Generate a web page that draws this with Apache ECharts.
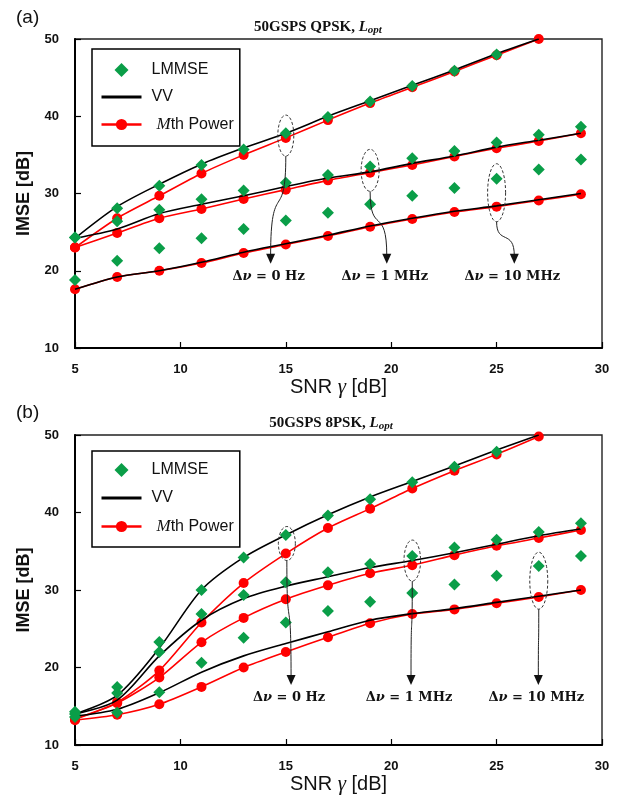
<!DOCTYPE html>
<html>
<head>
<meta charset="utf-8">
<script src="https://cdn.jsdelivr.net/npm/echarts@6/dist/echarts.min.js"></script>
<style>
  html, body { margin: 0; padding: 0; background: #ffffff; }
  #chart { width: 621px; height: 796px; }
</style>
</head>
<body>
<div id="chart"></div>
<script>
// SNR sweep points (dB)
const snr = [5, 7, 9, 11, 13, 15, 17, 19, 21, 23, 25, 27, 29];

// (a) 50GSPS QPSK — IMSE [dB] for linewidths 0 Hz / 1 MHz / 10 MHz
const qpskLmmse0  = [24.3, 28.1, 31.0, 33.7, 35.7, 37.8, 39.9, 41.9, 43.9, 45.9, 48.0, null, null];
const qpskLmmse1  = [24.3, 26.4, 27.9, 29.25, 30.4, 31.4, 32.4, 33.5, 34.55, 35.5, 36.6, 37.6, 38.65];
const qpskLmmse10 = [18.8, 21.3, 22.9, 24.2, 25.4, 26.5, 27.5, 28.6, 29.7, 30.7, 31.9, 33.1, 34.4];
const qpskVv0     = [24.2, 28.3, 31.2, 33.8, 35.9, 37.8, 40.0, 42.0, 44.0, 46.0, 48.1, 50.0, null];
const qpskVv1     = [24.2, 25.4, 27.4, 28.6, 29.7, 30.9, 32.0, 32.8, 33.9, 34.85, 36.0, 36.9, 37.8];
const qpskVv10    = [17.6, 19.2, 20.0, 21.1, 22.4, 23.5, 24.6, 25.8, 26.8, 27.7, 28.4, 29.2, 30.0];
const qpskMth0    = [23.0, 26.8, 29.7, 32.6, 35.0, 37.2, 39.5, 41.7, 43.75, 45.8, 47.9, 50.0, null];
const qpskMth1    = [23.0, 24.9, 26.8, 28.0, 29.3, 30.5, 31.7, 32.7, 33.7, 34.8, 35.85, 36.8, 37.8];
const qpskMth10   = [17.6, 19.2, 20.0, 21.0, 22.3, 23.4, 24.5, 25.7, 26.7, 27.6, 28.3, 29.1, 29.9];

// (b) 50GSPS 8PSK
const psk8Lmmse0  = [14.3, 17.5, 23.3, 30.0, 34.2, 37.1, 39.6, 41.7, 43.9, 45.9, 47.85, null, null];
const psk8Lmmse1  = [14.0, 16.7, 22.0, 26.9, 29.35, 31.0, 32.3, 33.35, 34.4, 35.5, 36.5, 37.5, 38.6];
const psk8Lmmse10 = [13.6, 14.2, 16.8, 20.6, 23.85, 25.8, 27.3, 28.5, 29.6, 30.7, 31.85, 33.1, 34.4];
const psk8Vv0     = [14.0, 16.4, 22.5, 30.0, 34.2, 37.1, 39.7, 42.0, 44.0, 46.0, 48.05, 50.0, null];
const psk8Vv1     = [14.0, 15.8, 21.5, 26.1, 28.9, 30.5, 31.7, 32.9, 33.8, 34.8, 35.9, 37.0, 37.9];
const psk8Vv10    = [13.7, 14.6, 16.75, 19.4, 21.5, 23.1, 24.6, 26.1, 26.95, 27.6, 28.4, 29.2, 30.0];
const psk8Mth0    = [13.4, 15.5, 19.6, 25.8, 30.9, 34.7, 38.0, 40.5, 43.1, 45.4, 47.5, 49.8, null];
const psk8Mth1    = [13.3, 15.4, 18.7, 23.25, 26.4, 28.8, 30.6, 32.15, 33.2, 34.5, 35.7, 36.7, 37.75];
const psk8Mth10   = [13.2, 13.9, 15.25, 17.5, 20.0, 22.0, 23.9, 25.7, 26.9, 27.5, 28.3, 29.1, 30.0];

// Axis ranges
const xMin = 5, xMax = 30, xStep = 5;
const yMin = 10, yMax = 50, yStep = 10;

// Linewidth call-outs: ring centre and arrow tip in data units
const qpskNotes = [
  { label: '0 Hz',   ring: [15, 37.5],   tip: [14.28, 20.9], rx: 8,   ry: 20.5 },
  { label: '1 MHz',  ring: [19, 33.0],   tip: [19.79, 20.9], rx: 9,   ry: 21 },
  { label: '10 MHz', ring: [25, 30.1],   tip: [25.84, 20.9], rx: 9,   ry: 29 }
];
const psk8Notes = [
  { label: '0 Hz',   ring: [15.05, 36.0], tip: [15.25, 17.74], rx: 8.5, ry: 17 },
  { label: '1 MHz',  ring: [21, 33.8],    tip: [20.94, 17.74], rx: 8.3, ry: 20.5 },
  { label: '10 MHz', ring: [27, 31.2],    tip: [26.98, 17.74], rx: 9,   ry: 28.5 }
];

const GREEN = '#0a9e48';
const RED = '#ff0000';
const BLACK = '#000000';
const DIAMOND_ICON = 'path://M0,-1L1,0L0,1L-1,0Z';

function toPairs(ys) {
  const out = [];
  snr.forEach((x, i) => { if (ys[i] != null) out.push([x, ys[i]]); });
  return out;
}

function panelSeries(idx, lmmse, vv, mth) {
  const s = [];
  mth.forEach(ys => s.push({
    name: 'Mth Power', type: 'line', xAxisIndex: idx, yAxisIndex: idx,
    data: toPairs(ys), smooth: 0.25, symbol: 'circle', symbolSize: 10,
    lineStyle: { color: RED, width: 1.6 }, itemStyle: { color: RED, opacity: 1 },
    z: 2, clip: false
  }));
  vv.forEach(ys => s.push({
    name: 'VV', type: 'line', xAxisIndex: idx, yAxisIndex: idx,
    data: toPairs(ys), smooth: 0.3, symbol: 'none',
    lineStyle: { color: BLACK, width: 1.6 }, itemStyle: { color: BLACK },
    z: 3
  }));
  lmmse.forEach(ys => s.push({
    name: 'LMMSE', type: 'scatter', xAxisIndex: idx, yAxisIndex: idx,
    data: toPairs(ys), symbol: 'diamond', symbolSize: 12,
    itemStyle: { color: GREEN, opacity: 1 }, z: 4
  }));
  return s;
}

const tickFont = { fontFamily: 'Liberation Sans', fontWeight: 'bold', fontSize: 13, color: '#111' };

function xAxisOf(idx) {
  return {
    type: 'value', gridIndex: idx, min: xMin, max: xMax, interval: xStep,
    name: 'SNR {g|γ} [dB]', nameLocation: 'middle', nameGap: 24,
    nameTextStyle: {
      fontFamily: 'Liberation Sans', fontSize: 20, color: '#111',
      rich: { g: { fontFamily: 'Liberation Serif', fontStyle: 'italic', fontSize: 21, color: '#111' } }
    },
    axisLine: { lineStyle: { color: BLACK, width: 2 } },
    axisTick: { inside: true, length: 6, lineStyle: { color: BLACK, width: 1.2 } },
    axisLabel: Object.assign({ margin: 15 }, tickFont),
    splitLine: { show: false }
  };
}
function yAxisOf(idx) {
  return {
    type: 'value', gridIndex: idx, min: yMin, max: yMax, interval: yStep,
    name: 'IMSE [dB]', nameLocation: 'middle', nameGap: 42,
    nameTextStyle: { fontFamily: 'Liberation Sans', fontWeight: 'bold', fontSize: 18, color: '#111' },
    axisLine: { lineStyle: { color: BLACK, width: 2 } },
    axisTick: { inside: true, length: 6, lineStyle: { color: BLACK, width: 1.2 } },
    axisLabel: Object.assign({ margin: 16 }, tickFont),
    splitLine: { show: false }
  };
}

function legendOf(top, pad, gap) {
  return {
    orient: 'vertical', left: 92, top: top,
    padding: pad, itemGap: gap, itemWidth: 40, itemHeight: 14,
    symbolKeepAspect: true,
    borderColor: BLACK, borderWidth: 1.5, backgroundColor: '#fff',
    data: [
      { name: 'LMMSE', icon: DIAMOND_ICON, itemStyle: { color: GREEN, opacity: 1 } },
      { name: 'VV', lineStyle: { width: 3 }, itemStyle: { opacity: 0 } },
      { name: 'Mth Power', lineStyle: { width: 2.5 } }
    ],
    formatter: n => n === 'Mth Power' ? '{m|M}th Power' : n,
    textStyle: {
      fontFamily: 'Liberation Sans', fontSize: 16, color: '#111', padding: [0, 0, 0, 5],
      rich: { m: { fontFamily: 'Liberation Serif', fontStyle: 'italic', fontSize: 17, color: '#111', padding: [0, 0, 0, 5] } }
    },
    selectedMode: false
  };
}

function titleOf(text, cx, top) {
  return {
    text: text, left: cx, top: top, textAlign: 'center', padding: 0,
    textStyle: {
      rich: {
        b: { fontFamily: 'Liberation Serif', fontWeight: 'bold', fontSize: 15, color: '#111' },
        i: { fontFamily: 'Liberation Serif', fontWeight: 'bold', fontStyle: 'italic', fontSize: 15, color: '#111' },
        s: { fontFamily: 'Liberation Serif', fontWeight: 'bold', fontStyle: 'italic', fontSize: 11, color: '#111', padding: [6, 0, 0, 0] }
      }
    }
  };
}

const option = {
  backgroundColor: '#fff',
  animation: false,
  title: [
    { text: '(a)', left: 16, top: 8, padding: 0, textStyle: { fontFamily: 'Liberation Sans', fontWeight: 'normal', fontSize: 19, color: '#111' } },
    { text: '(b)', left: 16, top: 403, padding: 0, textStyle: { fontFamily: 'Liberation Sans', fontWeight: 'normal', fontSize: 19, color: '#111' } },
    titleOf('{b|50GSPS QPSK, }{i|L}{s|opt}', 318, 19),
    titleOf('{b|50GSPS 8PSK, }{i|L}{s|opt}', 331, 415)
  ],
  legend: [legendOf(49, [13, 6, 13, 8], 11), legendOf(451, [11, 6, 12, 8], 12)],
  grid: [
    { left: 75, top: 39, width: 527, height: 309, show: true, borderColor: '#222', borderWidth: 1.4 },
    { left: 75, top: 435, width: 527, height: 310, show: true, borderColor: '#222', borderWidth: 1.4 }
  ],
  xAxis: [xAxisOf(0), xAxisOf(1)],
  yAxis: [yAxisOf(0), yAxisOf(1)],
  series: [].concat(
    panelSeries(0, [qpskLmmse0, qpskLmmse1, qpskLmmse10], [qpskVv0, qpskVv1, qpskVv10], [qpskMth0, qpskMth1, qpskMth10]),
    panelSeries(1, [psk8Lmmse0, psk8Lmmse1, psk8Lmmse10], [psk8Vv0, psk8Vv1, psk8Vv10], [psk8Mth0, psk8Mth1, psk8Mth10])
  )
};

const chart = echarts.init(document.getElementById('chart'), null, { renderer: 'canvas' });
chart.setOption(option);

// Dashed rings, curved arrows and linewidth labels, placed through the axes
function noteGraphics(gridIndex, notes) {
  const els = [];
  notes.forEach(n => {
    const c = chart.convertToPixel({ gridIndex }, n.ring);
    const t = chart.convertToPixel({ gridIndex }, n.tip);
    const pts = [];
    for (let k = 0; k < 48; k++) {
      const a = k / 48 * Math.PI * 2;
      pts.push([c[0] + n.rx * Math.cos(a), c[1] + n.ry * Math.sin(a)]);
    }
    els.push({ type: 'polygon', shape: { points: pts }, z: 20,
      style: { fill: 'none', stroke: '#333', lineWidth: 1, lineDash: [3, 2] } });
    const x0 = c[0], y0 = c[1] + n.ry;
    const x1 = t[0], y1 = t[1] - 8;
    const dy = y1 - y0;
    els.push({ type: 'bezierCurve', z: 20,
      shape: { x1: x0, y1: y0, cpx1: x0, cpy1: y0 + 0.7 * dy, cpx2: x1, cpy2: y0 + 0.2 * dy, x2: x1, y2: y1 },
      style: { fill: 'none', stroke: '#222', lineWidth: 1 } });
    els.push({ type: 'polygon', z: 20,
      shape: { points: [[t[0], t[1]], [t[0] - 4.5, t[1] - 10], [t[0] + 4.5, t[1] - 10]] },
      style: { fill: '#111' } });
    els.push({ type: 'text', z: 20, x: t[0] - 2, y: t[1] + 13,
      style: {
        text: '{d|Δ}{v|ν}{d| = ' + n.label + '}',
        align: 'center', verticalAlign: 'middle',
        rich: {
          d: { fontFamily: 'DejaVu Serif', fontWeight: 'bold', fontSize: 13, fill: '#111' },
          v: { fontFamily: 'DejaVu Serif', fontWeight: 'bold', fontStyle: 'italic', fontSize: 13, fill: '#111' }
        }
      } });
  });
  return els;
}

chart.setOption({ graphic: [].concat(noteGraphics(0, qpskNotes), noteGraphics(1, psk8Notes)) });
</script>
</body>
</html>
